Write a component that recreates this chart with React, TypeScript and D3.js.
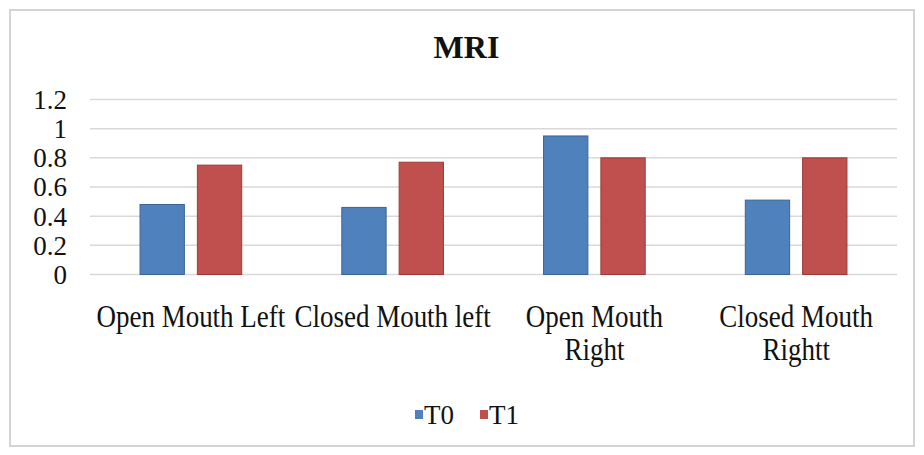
import React from 'react';
import * as d3 from 'd3';

// chart data
const categories = ['Open Mouth Left', 'Closed Mouth left', 'Open Mouth\nRight', 'Closed Mouth\nRightt'];
const seriesNames = ['T0', 'T1'];
const t0Values = [0.48, 0.46, 0.95, 0.51];
const t1Values = [0.75, 0.77, 0.8, 0.8];
const yTicks = [0, 0.2, 0.4, 0.6, 0.8, 1, 1.2];
const title = 'MRI';

const seriesColors = ['#4F81BD', '#C0504D'];
const seriesStroke = ['#3A6494', '#9B3B39'];
const FONT = 'Liberation Serif';

const width = 924;
const height = 455;
const plot = { left: 90, right: 897, top: 99.5, bottom: 274.5 };

const App = () => {
  const values = [t0Values, t1Values];

  const x0 = d3.scaleBand<string>()
    .domain(categories)
    .range([plot.left, plot.right])
    .padding(0);

  const x1 = d3.scaleBand<string>()
    .domain(seriesNames)
    .range([0, x0.bandwidth()])
    .paddingInner(0.227)
    .paddingOuter(0.873);

  const y = d3.scaleLinear()
    .domain([0, 1.2])
    .range([plot.bottom, plot.top]);

  const legendX = d3.scalePoint<string>().domain(seriesNames).range([415, 480]);

  return (
    <svg
      width={width}
      height={height}
      style={{ position: 'absolute', left: 0, top: 0, display: 'block' }}
      fontFamily={FONT}
    >
      <rect width={width} height={height} fill="#fff" />
      <rect x={10} y={10} width={904} height={436} fill="none" stroke="#d4d4d4" strokeWidth={2} />

      {/* gridlines + y labels */}
      {yTicks.map(t => (
        <g key={t}>
          <line x1={plot.left} x2={plot.right} y1={y(t)} y2={y(t)} stroke="#d9d9d9" strokeWidth={1.5} />
          <text x={plot.left - 23} y={y(t)} dy="0.35em" textAnchor="end" fontSize={27} fill="#111">
            {`${t}`}
          </text>
        </g>
      ))}

      {/* bars */}
      {categories.map((c, i) => (
        <g key={c} transform={`translate(${x0(c)},0)`}>
          {seriesNames.map((s, si) => (
            <rect
              key={s}
              x={x1(s)}
              y={y(values[si][i])}
              width={x1.bandwidth()}
              height={y(0) - y(values[si][i])}
              fill={seriesColors[si]}
              stroke={seriesStroke[si]}
              strokeWidth={1}
            />
          ))}
        </g>
      ))}

      {/* x labels, a bit stretched vertically like the source */}
      {categories.map(c => {
        const cx = x0(c)! + x0.bandwidth() / 2;
        return c.split('\n').map((line, li) => (
          <text
            key={c + li}
            transform={`translate(${cx},${326.7 + li * 33.3}) scale(1,1.2)`}
            textAnchor="middle"
            fontSize={27}
            fill="#111"
          >
            {line}
          </text>
        ));
      })}

      {/* title */}
      <text x={466.5} y={58.3} textAnchor="middle" fontSize={32} fontWeight="bold" fill="#111">
        {title}
      </text>

      {/* legend */}
      {seriesNames.map((s, si) => (
        <g key={s} transform={`translate(${legendX(s)},0)`}>
          <rect x={0} y={410} width={8} height={9} fill={seriesColors[si]} />
          <text x={9} y={424.3} fontSize={27} fill="#111">{s}</text>
        </g>
      ))}
    </svg>
  );
};

export default App;
